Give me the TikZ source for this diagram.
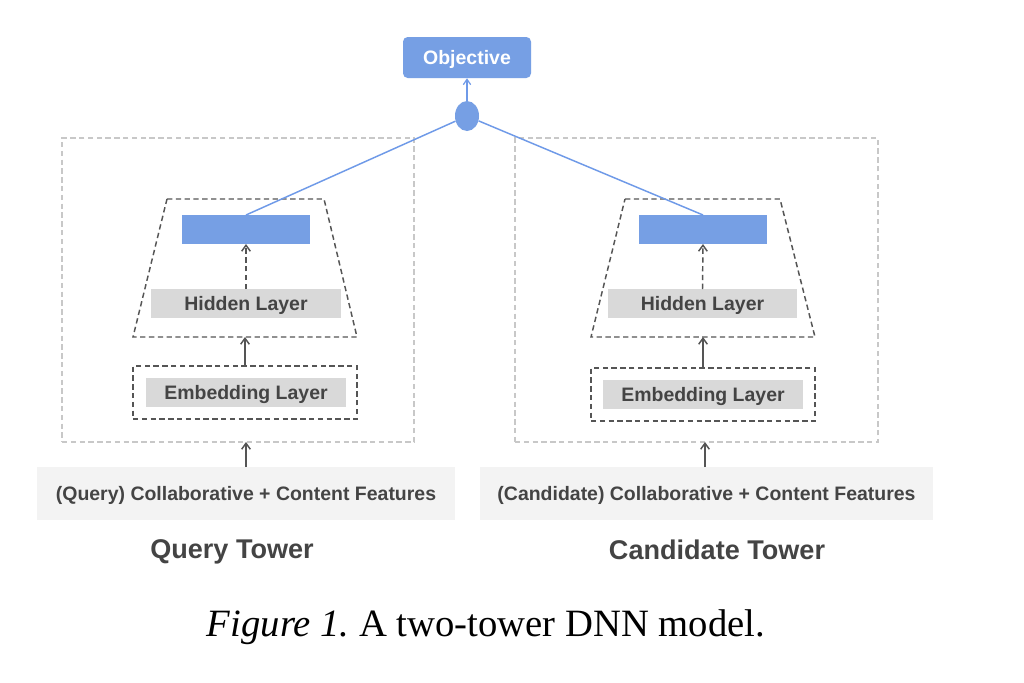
\documentclass[tikz,border=0pt]{standalone}
\usepackage{fontspec}
\setmainfont{Liberation Serif}
\setsansfont{Liberation Sans}
\usetikzlibrary{arrows.meta,shapes.geometric}
\definecolor{gblue}{HTML}{769FE4}
\definecolor{lblue}{HTML}{6F9AE8}
\definecolor{txtgray}{HTML}{444444}
\definecolor{boxgray}{HTML}{D9D9D9}
\definecolor{featgray}{HTML}{F3F3F3}
\definecolor{dashdark}{HTML}{555555}
\definecolor{dashlight}{HTML}{C8C8C8}
\tikzset{
  lbl/.style={font=\sffamily\bfseries\fontsize{14.6pt}{17pt}\selectfont, text=txtgray, text depth=0pt},
  graybox/.style={lbl, fill=boxgray, inner sep=0pt, outer sep=0pt, minimum height=21.75pt},
  featbox/.style={lbl, fill=featgray, inner sep=0pt, outer sep=0pt, minimum height=39.75pt},
  bluebox/.style={fill=gblue, inner sep=0pt, outer sep=0pt, minimum width=96pt, minimum height=21.75pt},
  darkdash/.style={draw=dashdark, line width=1.1pt, dash pattern=on 4pt off 2.6pt},
  lightdash/.style={draw=dashlight, line width=0.9pt, dash pattern=on 4pt off 2.6pt},
  embframe/.style={darkdash, inner sep=0pt, outer sep=0pt, minimum width=168pt, minimum height=39.75pt},
  outerframe/.style={lightdash, inner sep=0pt, outer sep=0pt, minimum height=228pt},
  arr/.style={draw=dashdark, line width=1.1pt, -{Straight Barb[length=4.5pt,width=6.5pt,line width=1.1pt]}},
  bluearr/.style={draw=lblue, line width=0.9pt, -{Straight Barb[length=4pt,width=5.5pt,line width=0.9pt]}},
  blueline/.style={draw=lblue, line width=1.1pt},
  title/.style={font=\sffamily\bfseries\fontsize{20.3pt}{24pt}\selectfont, text=txtgray},
}
\begin{document}
\begin{tikzpicture}[x=0.75pt,y=-0.75pt]
\useasboundingbox (0,0) rectangle (1024,682);
\fill[white] (0,0) rectangle (1024,682);

% Objective and combiner
\node[fill=gblue, rounded corners=3.5pt, inner sep=0pt, minimum width=96pt, minimum height=30.75pt,
      font=\sffamily\bfseries\fontsize{14.6pt}{17pt}\selectfont, text=white, text depth=0pt] (obj) at (467,57.5) {Objective};
\node[ellipse, fill=gblue, inner sep=0pt, minimum width=18pt, minimum height=22.5pt] (dot) at (467,116) {};
\draw[bluearr] (dot) -- (obj);

% Outer frames
\node[outerframe, minimum width=264pt] (outL) at (238,290) {};
\node[outerframe, minimum width=272.25pt] (outR) at (696.5,290) {};

% Left tower
\draw[darkdash] (167,199) -- (324,199) -- (357,337) -- (133,337) -- cycle;
\coordinate (trapLb) at (245,337);
\node[bluebox] (blueL) at (246,229.5) {};
\node[graybox, minimum width=142.5pt] (hidL) at (246,303.5) {Hidden Layer};
\node[embframe] (embfL) at (245,392.5) {};
\node[graybox, minimum width=150pt] (embL) at (246,392.5) {Embedding Layer};
\node[featbox, minimum width=313.5pt] (featL) at (246,493.5) {(Query) Collaborative + Content Features};
\node[title] (tL) at (232,552) {Query Tower};

\draw[arr, dash pattern=on 4pt off 2.6pt] (hidL.north) -- (blueL.south);
\draw[arr] (embfL.north) -- (trapLb);
\draw[arr] (featL.north) -- (featL.north |- outL.south);

% Right tower
\draw[darkdash] (625,199) -- (780,199) -- (815,337) -- (591,337) -- cycle;
\coordinate (trapRb) at (703,337);
\node[bluebox] (blueR) at (703,229.5) {};
\node[graybox, minimum width=141.75pt] (hidR) at (702.5,303.5) {Hidden Layer};
\node[embframe] (embfR) at (703,394.5) {};
\node[graybox, minimum width=150pt] (embR) at (703,394.5) {Embedding Layer};
\node[featbox, minimum width=339.75pt] (featR) at (706.5,493.5) {(Candidate) Collaborative + Content Features};
\node[title] (tR) at (717,550) {Candidate Tower};
\coordinate (featRtop) at (705,467);

\draw[arr, dash pattern=on 4pt off 2.6pt] (hidR.north) -- (blueR.south);
\draw[arr] (embfR.north) -- (trapRb);
\draw[arr] (featRtop) -- (featRtop |- outR.south);

% Blue connectors
\draw[blueline] (blueL.north) -- (dot);
\draw[blueline] (blueR.north) -- (dot);

% Caption
\node[font=\fontsize{29pt}{34pt}\selectfont] (cap) at (486,627) {\textit{Figure 1.}\ A two-tower DNN model.};
\end{tikzpicture}
\end{document}
